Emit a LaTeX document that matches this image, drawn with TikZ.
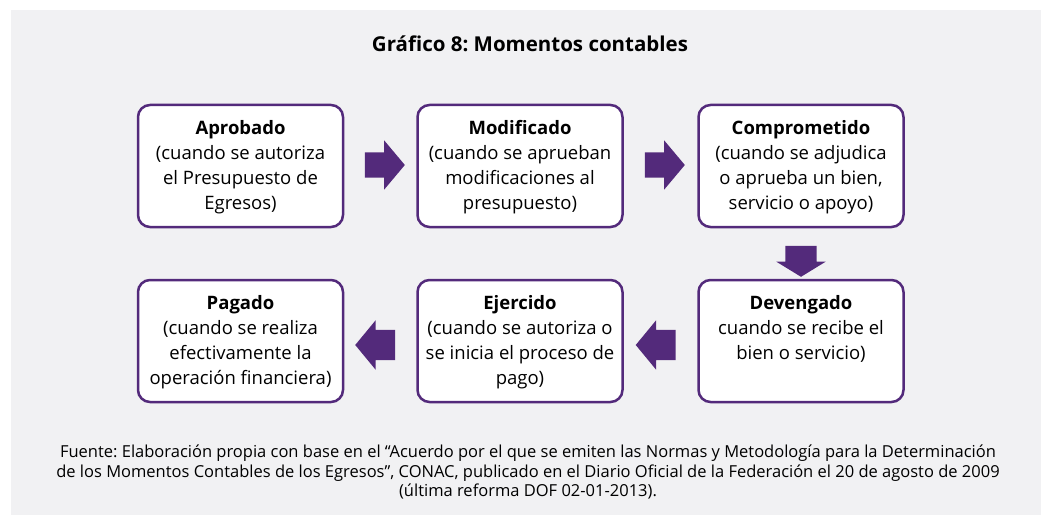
\documentclass[tikz,border=0pt]{standalone}
\usepackage{fontspec}
\setmainfont{Open Sans}
\usetikzlibrary{shapes.arrows}
\definecolor{morado}{HTML}{532A7B}
\definecolor{fondo}{HTML}{F1F1F3}
\newcommand{\momento}[2]{\parbox[t][92pt][t]{200pt}{\centering\textbf{#1}\\#2}}
\frenchspacing

\begin{document}
\begin{tikzpicture}[x=1pt,y=-1pt,
	momento/.style={draw=morado,line width=2.5pt,fill=white,rounded corners=12pt,
		minimum width=205pt,minimum height=122pt,inner sep=0pt,
		font=\fontsize{18.5}{25}\selectfont},
	flecha/.style={single arrow,fill=morado,draw=none,inner xsep=0pt,minimum height=40pt}]
		\useasboundingbox (0,0) rectangle (1041,516);
		\fill[white] (0,0) rectangle (1041,516);
		\fill[fondo] (11,10) rectangle (1041,515);
		
		\node[font=\bfseries\fontsize{20.5}{25}\selectfont] (titulo) at (530,44) {Gráfico 8: Momentos contables};
		
		% fila superior
		\node[momento] (aprobado) at (240.5,166) {\momento{Aprobado}{(cuando se autoriza\\el Presupuesto de\\Egresos)}};
		\node[momento] (modificado) at (520,166) {\momento{Modificado}{(cuando se aprueban\\modificaciones al\\presupuesto)}};
		\node[momento] (comprometido) at (801,166) {\momento{Comprometido}{(cuando se adjudica\\o aprueba un bien,\\servicio o apoyo)}};
		
		% fila inferior
		\node[momento] (devengado) at (801,341) {\momento{Devengado}{cuando se recibe el\\bien o servicio)}};
		\node[momento] (ejercido) at (520,341) {\momento{Ejercido}{(cuando se autoriza o\\se inicia el proceso de\\pago)}};
		\node[momento] (pagado) at (240.5,341) {\momento{Pagado}{(cuando se realiza\\efectivamente la\\operación financiera)}};
		
		\node[flecha,inner ysep=12.5pt,single arrow head extend=12pt,single arrow tip angle=100] (f1) at (379.5,165) {};
		\node[flecha,inner ysep=12.5pt,single arrow head extend=12pt,single arrow tip angle=100] (f2) at (659.5,165) {};
		\node[flecha,inner ysep=0pt,inner xsep=15.5pt,single arrow head extend=9pt,single arrow tip angle=117,minimum height=31pt,shape border rotate=270] (f3) at (801,256.5) {};
		\node[flecha,inner ysep=15pt,single arrow head extend=9.5pt,single arrow tip angle=101,shape border rotate=180] (f4) at (662,345) {};
		\node[flecha,inner ysep=15pt,single arrow head extend=9.5pt,single arrow tip angle=101,shape border rotate=180] (f5) at (381.5,345) {};
		
		\node[align=center,font=\fontsize{16.5}{19.5}\selectfont] (fuente) at (528,472) {Fuente: Elaboración propia con base en el “Acuerdo por el que se emiten las Normas y Metodología para la Determinación\\de los Momentos Contables de los Egresos”, CONAC, publicado en el Diario Oficial de la Federación el 20 de agosto de 2009\\(última reforma DOF 02-01-2013).};
	\end{tikzpicture}
\end{document}
